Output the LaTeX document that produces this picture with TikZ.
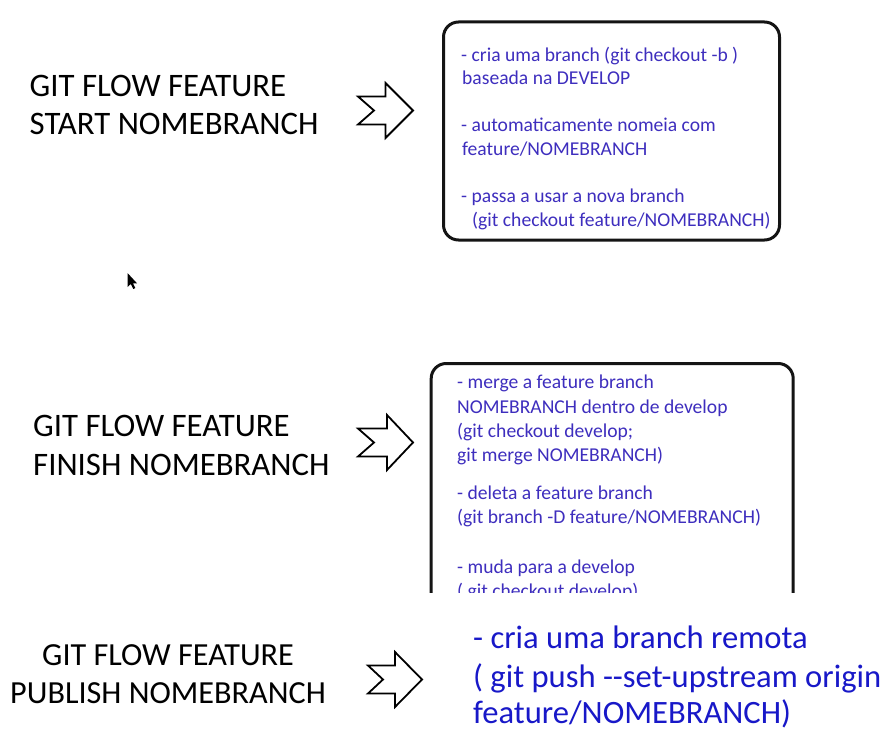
\documentclass[tikz,border=0pt]{standalone}
\usepackage{fontspec}
\setmainfont{Carlito}
\definecolor{boxtxt}{RGB}{62,46,190}
\definecolor{pubtxt}{RGB}{24,24,200}
\definecolor{edge}{RGB}{20,20,20}
\begin{document}
\begin{tikzpicture}[x=1pt,y=-1pt,
  lbl/.style={anchor=base west, inner sep=0pt, font=\fontsize{32.8}{38}\selectfont, text=black},
  lblsm/.style={lbl, font=\fontsize{32.2}{38}\selectfont},
  btxt/.style={anchor=base west, inner sep=0pt, font=\fontsize{19.6}{23}\selectfont, text=boxtxt},
  ptxt/.style={anchor=base west, inner sep=0pt, font=\fontsize{32.6}{38}\selectfont, text=pubtxt},
  panel/.style={draw=edge, line width=3pt, rounded corners=15pt, inner sep=0pt},
  bigarrow/.style={draw=black, line width=1.8pt, line join=miter, fill=white}]
\useasboundingbox (0,0) rectangle (885,751);
\fill[white] (0,0) rectangle (885,751);

% ---- row 1 ----
\node[lbl] (l1a) at (29.5,96.5) {GIT FLOW FEATURE};
\node[lbl] (l1b) at (29.5,135) {START NOMEBRANCH};
\draw[bigarrow, shift={(358,83)}] (0,13.5) -- (27.5,13.5) -- (27.5,0) -- (55,27.5) -- (27.5,55) -- (27.5,41.5) -- (0,41.5) -- (16,27.5) -- cycle;
\node[panel, minimum width=336pt, minimum height=218pt] (box1) at (611.5,131) {};
\node[btxt] (t11) at (461,62) {- cria uma branch (git checkout -b )};
\node[btxt] (t12) at (462,84.5) {baseada na DEVELOP};
\node[btxt] (t13) at (461,132) {- automaticamente nomeia com};
\node[btxt] (t14) at (462,155.5) {feature/NOMEBRANCH};
\node[btxt] (t15) at (461,203) {- passa a usar a nova branch};
\node[btxt] (t16) at (472,226.5) {(git checkout feature/NOMEBRANCH)};

% mouse cursor
\fill[black, shift={(127.5,273)}] (0,0) -- (0,14) -- (3.3,11) -- (5.8,16) -- (7.8,15) -- (5.4,10.3) -- (9.5,10.3) -- cycle;

% ---- row 2 ----
\node[lbl] (l2a) at (33,436.5) {GIT FLOW FEATURE};
\node[lbl] (l2b) at (33,475) {FINISH NOMEBRANCH};
\draw[bigarrow, shift={(358,415)}] (0,13.5) -- (29,13.5) -- (29,0) -- (55,27.5) -- (29,55) -- (29,41.5) -- (0,41.5) -- (16,27.5) -- cycle;
\begin{scope}
\clip (0,0) rectangle (885,592);
\node[panel, minimum width=362pt, minimum height=300pt] (box2) at (612.2,513.5) {};
\node[btxt] (t21) at (457,388) {- merge a feature branch};
\node[btxt] (t22) at (457,413) {NOMEBRANCH dentro de develop};
\node[btxt] (t23) at (457,437) {(git checkout develop;};
\node[btxt] (t24) at (457,461) {git merge NOMEBRANCH)};
\node[btxt] (t25) at (457,499) {- deleta a feature branch};
\node[btxt] (t26) at (457,523) {(git branch -D feature/NOMEBRANCH)};
\node[btxt] (t27) at (457,573) {- muda para a develop};
\node[btxt] (t28) at (457,597) {( git checkout develop)};
\end{scope}

% ---- row 3 ----
\node[lblsm] (l3a) at (42,665) {GIT FLOW FEATURE};
\node[lblsm] (l3b) at (10,703) {PUBLISH NOMEBRANCH};
\draw[bigarrow, shift={(368,652)}] (0,13.5) -- (27,13.5) -- (27,0) -- (54,27.5) -- (27,55) -- (27,41.5) -- (0,41.5) -- (15,27.5) -- cycle;
\node[ptxt] (t31) at (473,648) {- cria uma branch remota};
\node[ptxt] (t32) at (473,687) {( git push -\kern0pt-set-upstream origin};
\node[ptxt] (t33) at (473,723) {feature/NOMEBRANCH)};
\end{tikzpicture}
\end{document}
